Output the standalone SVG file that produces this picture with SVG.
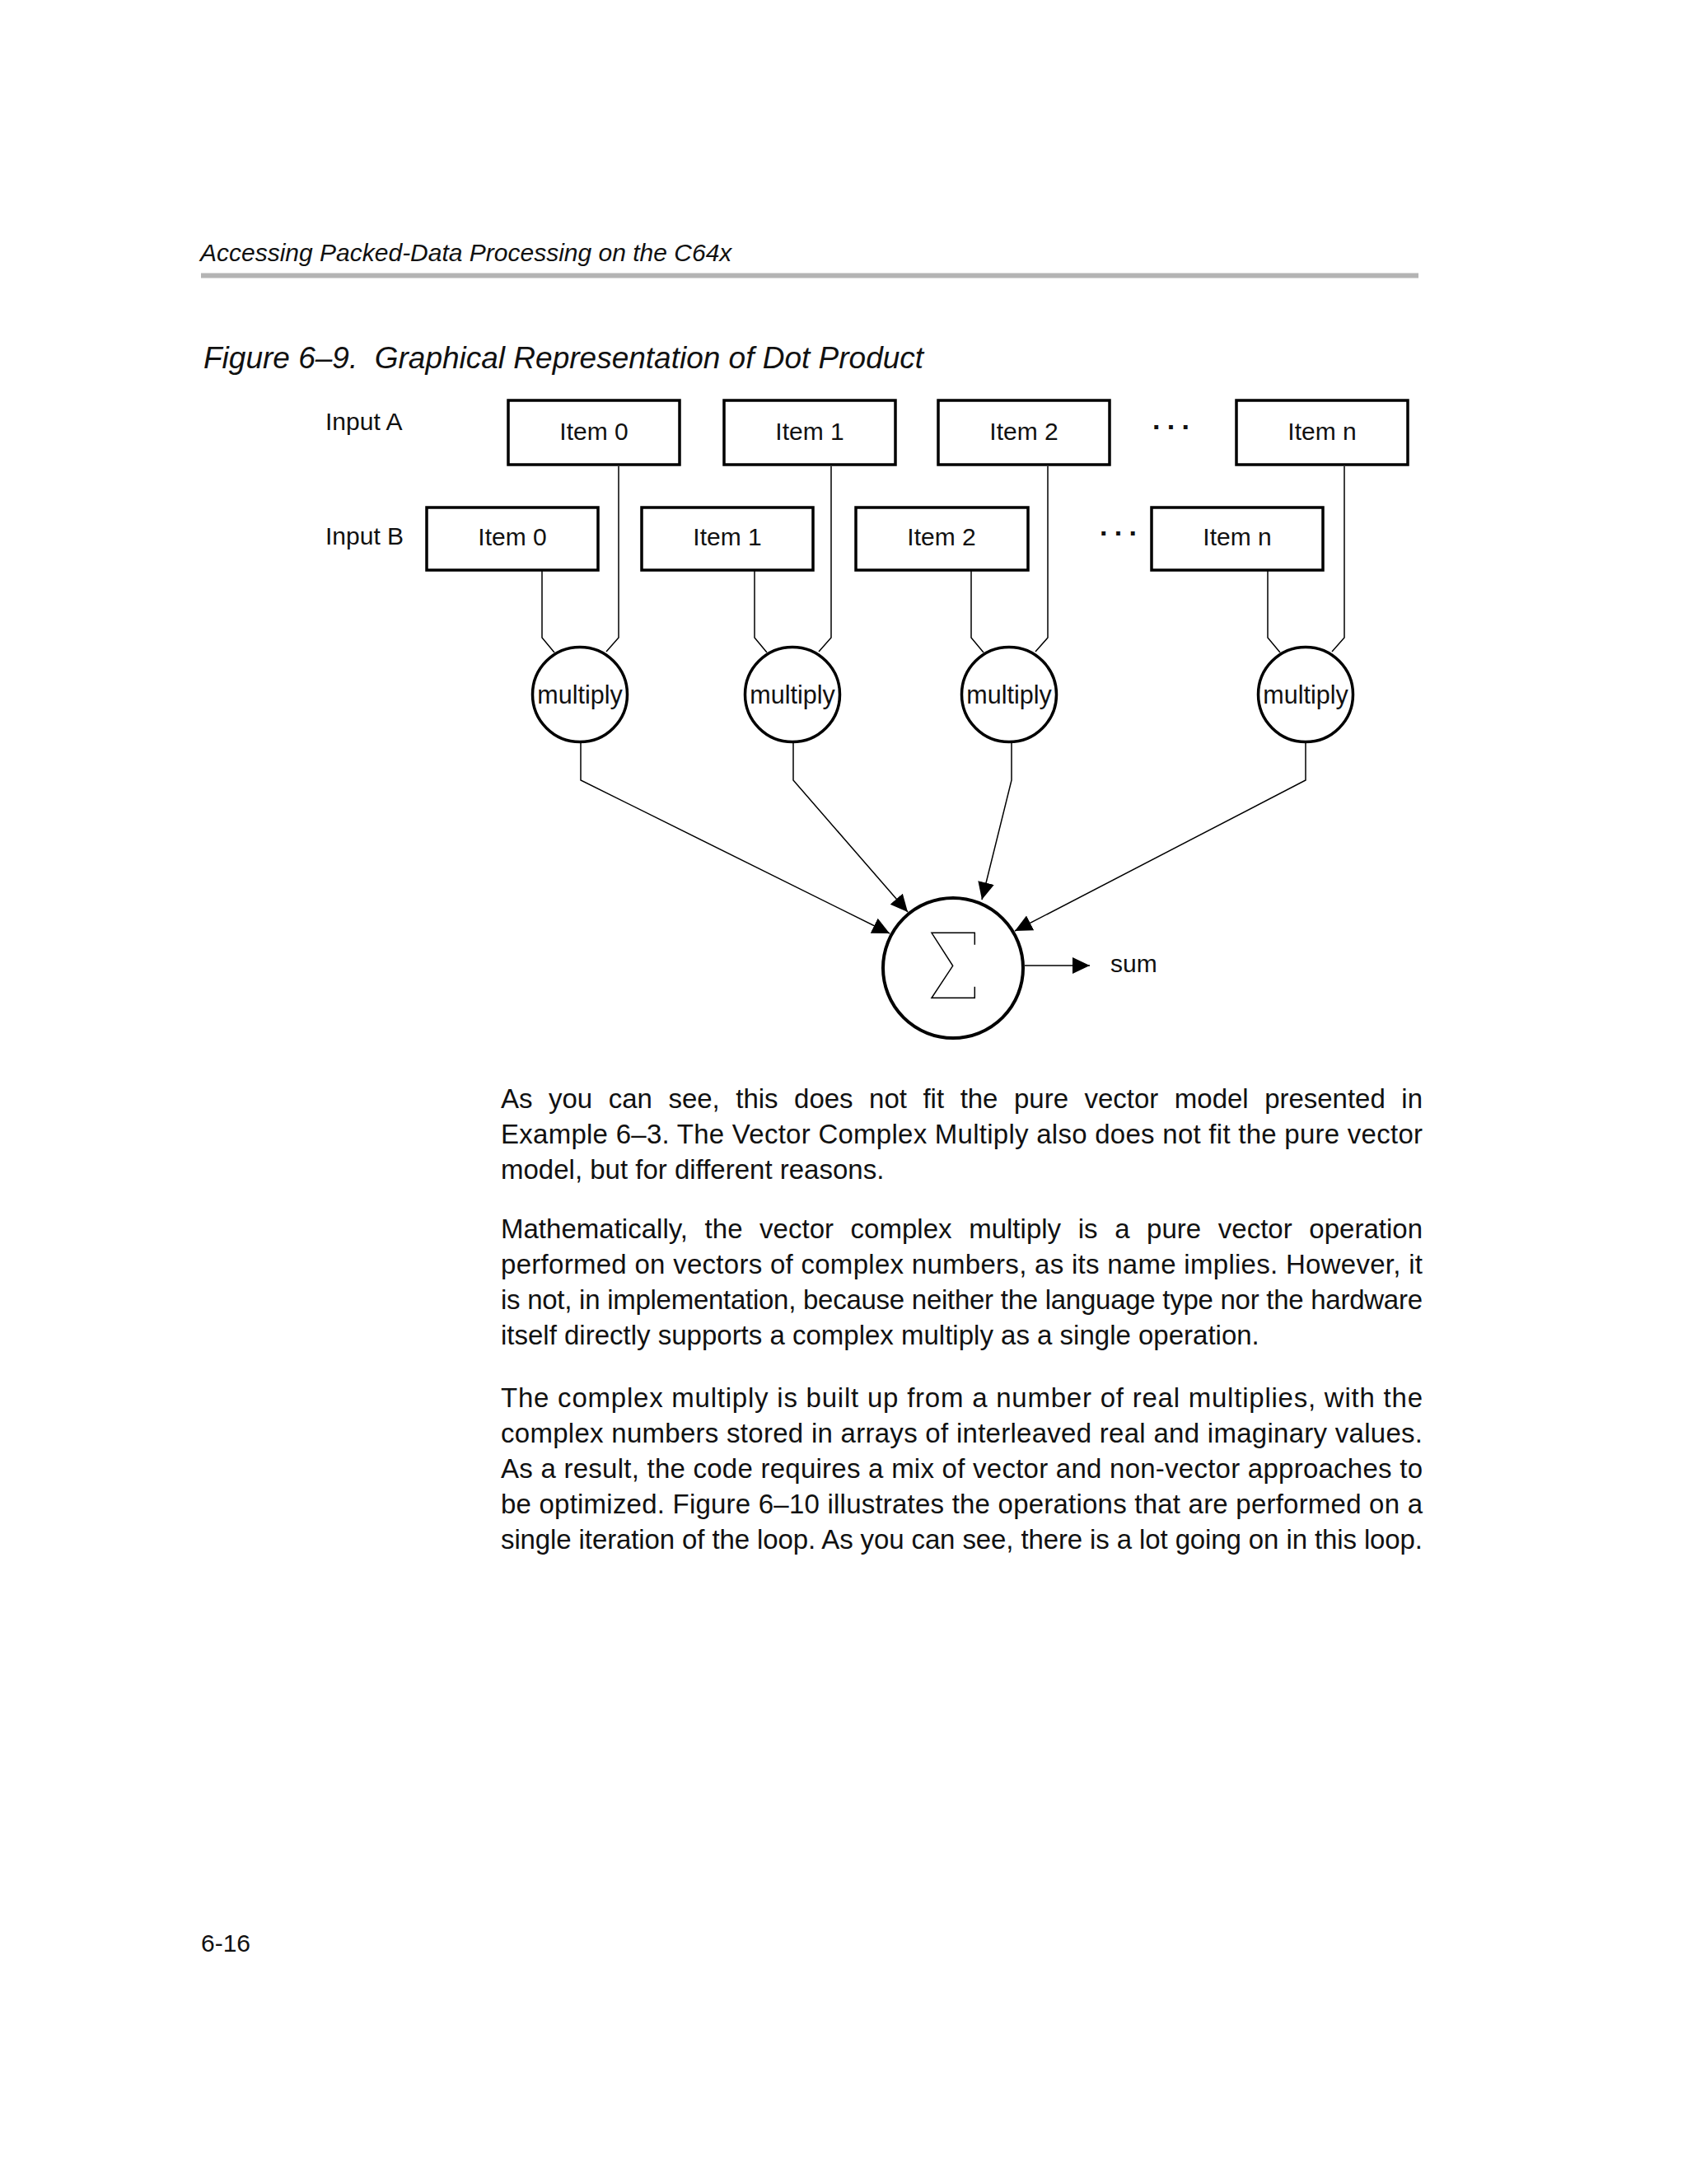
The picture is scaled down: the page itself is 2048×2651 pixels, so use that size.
<svg xmlns="http://www.w3.org/2000/svg" width="2048" height="2651" viewBox="0 0 2048 2651">
<style>
  text { font-family: "Liberation Sans", Arial, Helvetica, sans-serif; fill: #111; }
  .hdr { font-size: 30px; font-style: italic; }
  .ttl { font-size: 37px; font-style: italic; }
  .lbl { font-size: 30px; }
  .mul { font-size: 30.5px; }
  .dots { font-size: 34px; font-weight: bold; }
  .ctr { text-anchor: middle; }
  .body { font-size: 33px; }
  .box { fill: #fff; stroke: #000; stroke-width: 3.5; }
  .node { fill: #fff; stroke: #000; stroke-width: 3.5; }
  .conn { fill: none; stroke: #000; stroke-width: 1.5; }
</style>
<defs>
  <marker id="arr" markerUnits="userSpaceOnUse" markerWidth="24" markerHeight="24" refX="21" refY="10.5" orient="auto">
    <path d="M0,0.5 L21,10.5 L0,20.5 Z" fill="#000"/>
  </marker>
</defs>
<rect width="2048" height="2651" fill="#fff"/>

<g id="header">
  <text class="hdr" x="243" y="317">Accessing Packed-Data Processing on the C64x</text>
  <rect x="244" y="331.5" width="1478" height="6" fill="#b4b4b4"/>
  <text class="ttl" x="247" y="447" xml:space="preserve">Figure 6–9.  Graphical Representation of Dot Product</text>
</g>

<g id="labels">
  <text class="lbl" x="395" y="522">Input A</text>
  <text class="lbl" x="395" y="661">Input B</text>
  <text class="dots" x="1399" y="521" letter-spacing="8.3">...</text>
  <text class="dots" x="1335" y="650" letter-spacing="8.3">...</text>
</g>

<g id="connectors">
  <path class="conn" d="M751,566 V774 L736,791"/>
  <path class="conn" d="M658,693 V774 L673,792"/>
  <path class="conn" d="M1009,566 V774 L994,791"/>
  <path class="conn" d="M916,693 V774 L931,792"/>
  <path class="conn" d="M1272,566 V774 L1257,791"/>
  <path class="conn" d="M1179,693 V774 L1194,792"/>
  <path class="conn" d="M1632,566 V774 L1617,791"/>
  <path class="conn" d="M1539,693 V774 L1554,792"/>
  <path class="conn" d="M705,901 V947 L1080,1133" marker-end="url(#arr)"/>
  <path class="conn" d="M963,901 V947 L1102,1107" marker-end="url(#arr)"/>
  <path class="conn" d="M1228,901 V947 L1192,1092" marker-end="url(#arr)"/>
  <path class="conn" d="M1585,901 V947 L1232,1130" marker-end="url(#arr)"/>
  <path class="conn" d="M1244,1172 H1323" marker-end="url(#arr)"/>
</g>

<g id="a0"><rect class="box" x="617" y="486" width="208" height="78"/><text class="lbl ctr" x="721" y="534">Item 0</text></g>
<g id="a1"><rect class="box" x="879" y="486" width="208" height="78"/><text class="lbl ctr" x="983" y="534">Item 1</text></g>
<g id="a2"><rect class="box" x="1139" y="486" width="208" height="78"/><text class="lbl ctr" x="1243" y="534">Item 2</text></g>
<g id="an"><rect class="box" x="1501" y="486" width="208" height="78"/><text class="lbl ctr" x="1605" y="534">Item n</text></g>

<g id="b0"><rect class="box" x="518" y="616" width="208" height="76"/><text class="lbl ctr" x="622" y="662">Item 0</text></g>
<g id="b1"><rect class="box" x="779" y="616" width="208" height="76"/><text class="lbl ctr" x="883" y="662">Item 1</text></g>
<g id="b2"><rect class="box" x="1039" y="616" width="209" height="76"/><text class="lbl ctr" x="1143" y="662">Item 2</text></g>
<g id="bn"><rect class="box" x="1398" y="616" width="208" height="76"/><text class="lbl ctr" x="1502" y="662">Item n</text></g>

<g id="m0"><circle class="node" cx="704" cy="843" r="57.5"/><text class="mul ctr" x="704" y="854">multiply</text></g>
<g id="m1"><circle class="node" cx="962" cy="843" r="57.5"/><text class="mul ctr" x="962" y="854">multiply</text></g>
<g id="m2"><circle class="node" cx="1225" cy="843" r="57.5"/><text class="mul ctr" x="1225" y="854">multiply</text></g>
<g id="mn"><circle class="node" cx="1585" cy="843" r="57.5"/><text class="mul ctr" x="1585" y="854">multiply</text></g>

<g id="sum">
  <circle cx="1157" cy="1175" r="85" fill="#fff" stroke="#000" stroke-width="4"/>
  <path d="M1183.3,1146.7 V1132.3 H1131 L1156.7,1172.3 L1131,1211.3 H1183.3 V1197.7" fill="none" stroke="#000" stroke-width="1.5"/>
</g>
<g id="sumlabel"><text class="lbl" x="1348" y="1180">sum</text></g>

<g id="body">
  <text class="body" x="608" y="1345" word-spacing="10.4" textLength="1119" lengthAdjust="spacing">As you can see, this does not fit the pure vector model presented in</text>
  <text class="body" x="608" y="1388" textLength="1119" lengthAdjust="spacing">Example 6–3. The Vector Complex Multiply also does not fit the pure vector</text>
  <text class="body" x="608" y="1431">model, but for different reasons.</text>

  <text class="body" x="608" y="1503" word-spacing="11.4" textLength="1119" lengthAdjust="spacing">Mathematically, the vector complex multiply is a pure vector operation</text>
  <text class="body" x="608" y="1546" textLength="1119" lengthAdjust="spacing">performed on vectors of complex numbers, as its name implies. However, it</text>
  <text class="body" x="608" y="1589" textLength="1119" lengthAdjust="spacing">is not, in implementation, because neither the language type nor the hardware</text>
  <text class="body" x="608" y="1632">itself directly supports a complex multiply as a single operation.</text>

  <text class="body" x="608" y="1708" textLength="1119" lengthAdjust="spacing">The complex multiply is built up from a number of real multiplies, with the</text>
  <text class="body" x="608" y="1751" textLength="1119" lengthAdjust="spacing">complex numbers stored in arrays of interleaved real and imaginary values.</text>
  <text class="body" x="608" y="1794" textLength="1119" lengthAdjust="spacing">As a result, the code requires a mix of vector and non-vector approaches to</text>
  <text class="body" x="608" y="1837" textLength="1119" lengthAdjust="spacing">be optimized. Figure 6–10 illustrates the operations that are performed on a</text>
  <text class="body" x="608" y="1880" textLength="1119" lengthAdjust="spacing">single iteration of the loop. As you can see, there is a lot going on in this loop.</text>
</g>

<g id="footer">
  <text class="lbl" x="244" y="2369">6-16</text>
</g>
</svg>
